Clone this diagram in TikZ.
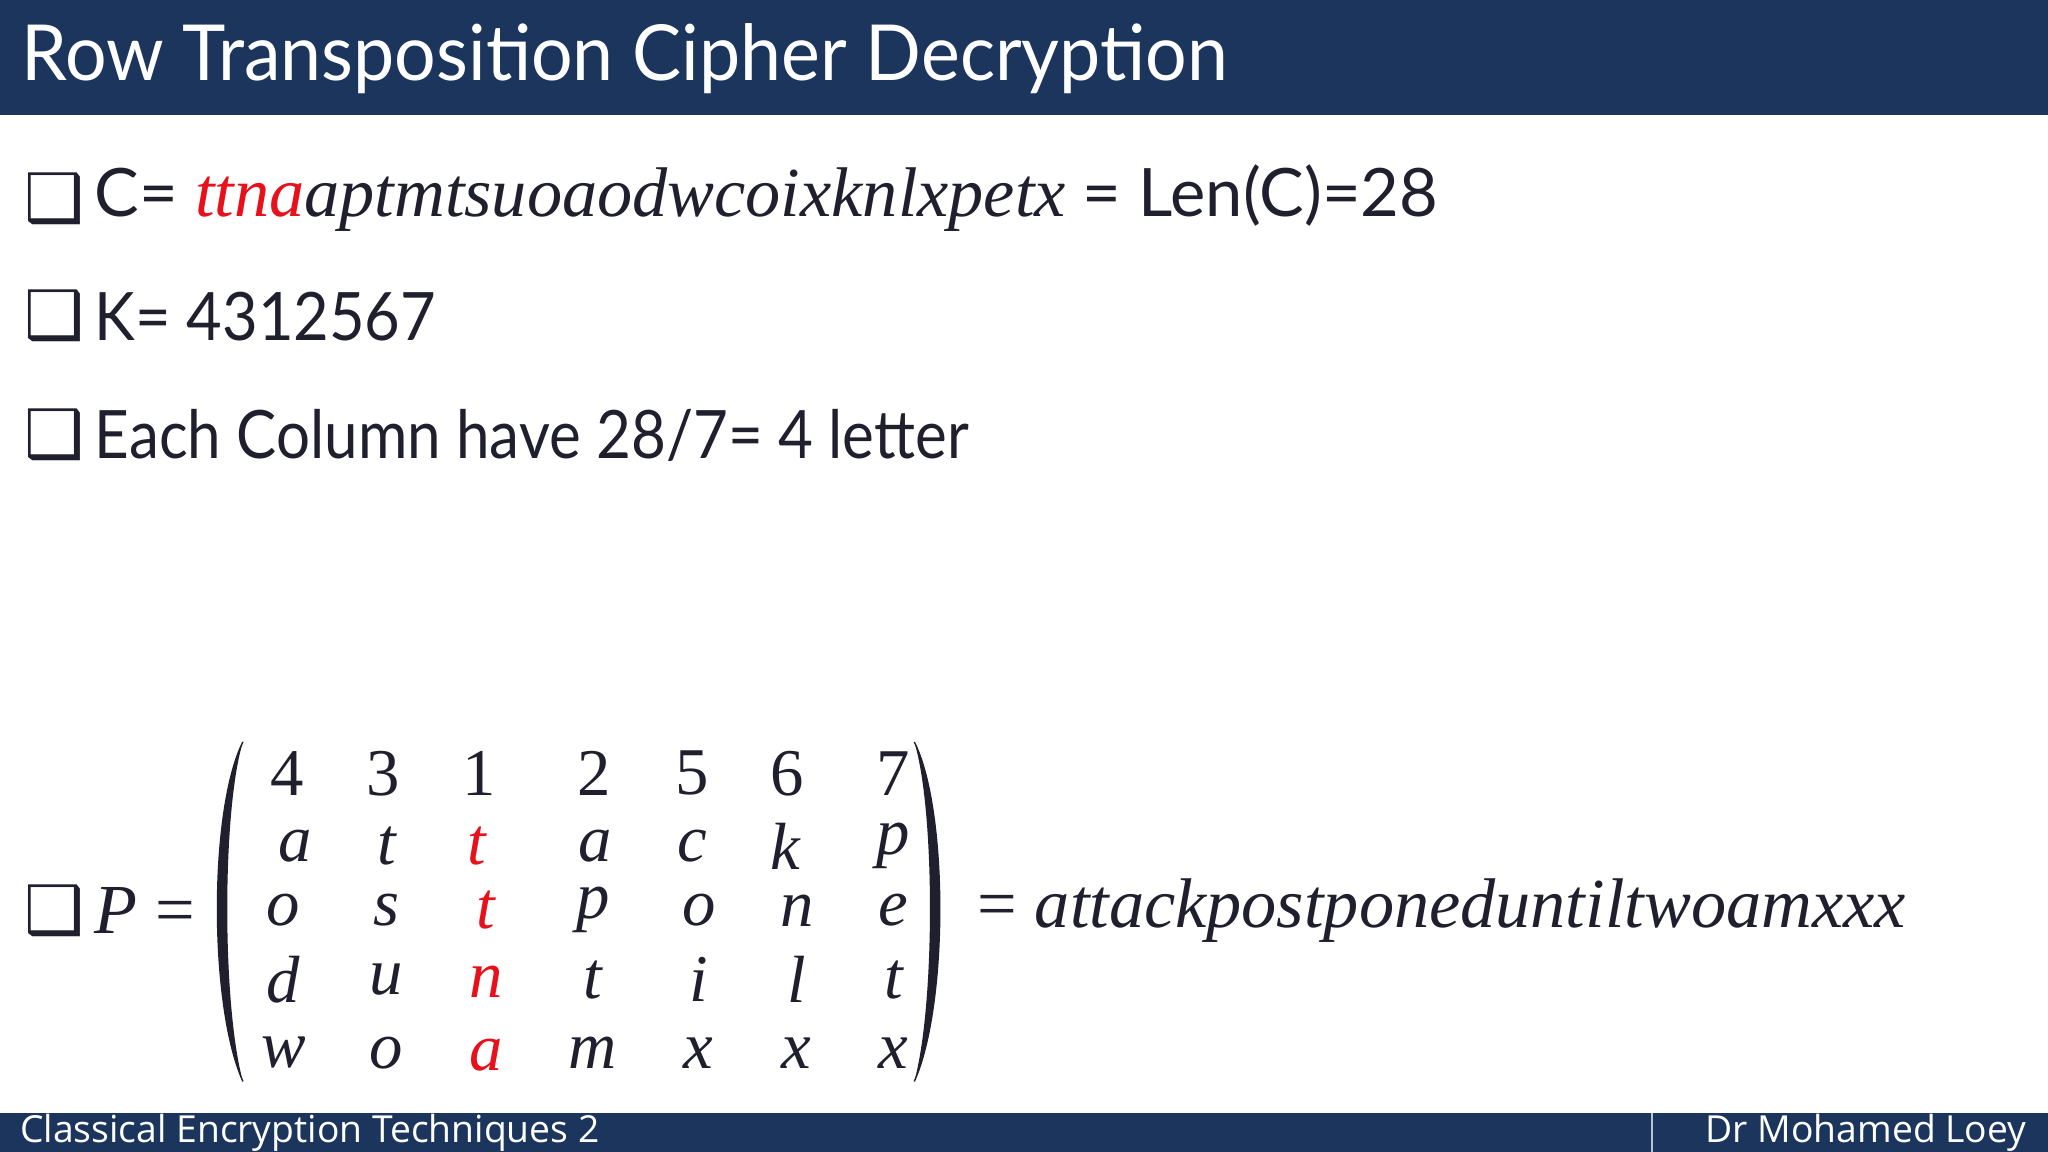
\documentclass[tikz,border=0pt]{standalone}
\usepackage{fontspec}
\setmainfont{Lato}
\newfontfamily\foot{Open Sans}
\newfontfamily\sym{DejaVu Sans}
\newfontfamily\mathserif{Liberation Serif}
\definecolor{navy}{HTML}{1B355C}
\definecolor{cred}{HTML}{E8101A}
\definecolor{ink}{HTML}{1F1F2E}
\tikzset{
  bul/.style={anchor=west,inner sep=0,font=\sym\fontsize{19}{19}\selectfont,text=ink},
  line/.style={anchor=west,inner sep=0,font=\fontsize{19}{19}\selectfont,text=ink},
  ent/.style={inner sep=0,font=\mathserif\itshape\fontsize{19}{19}\selectfont,text=ink},
  num/.style={inner sep=0,font=\mathserif\fontsize{19}{19}\selectfont,text=ink}
}
\begin{document}
\begin{tikzpicture}[x=0.01306cm,y=-0.01306cm]
\useasboundingbox (0,0) rectangle (1568,882);
\fill[white] (0,0) rectangle (1568,882);
\fill[navy] (0,0) rectangle (1568,88);
\fill[navy] (0,852) rectangle (1568,882);
\draw[white!70!navy,line width=0.6pt] (1265,852) -- (1265,882);
\node[anchor=west,inner sep=0,text=white,font=\fontsize{22}{22}\selectfont] (title) at (16,45) {\scalebox{0.95}[1]{Row Transposition Cipher Decryption}};
\node[anchor=west,inner sep=0,text=white,font=\foot\fontsize{10.6}{10.6}\selectfont] (fl) at (15,867) {Classical Encryption Techniques 2};
\node[anchor=east,inner sep=0,text=white,font=\foot\fontsize{10.6}{10.6}\selectfont] (fr) at (1552,867) {Dr Mohamed Loey};

\node[bul] (b1) at (18,152) {❑};
\node[line] (l1) at (72,152) {C= {\mathserif\itshape\fontsize{20}{20}\selectfont{\color{cred}ttna}aptmtsuoaodwcoixknlxpetx} = Len(C)=28};
\node[bul] (b2) at (18,242) {❑};
\node[line] (l2) at (72,242) {\scalebox{0.92}[1]{K= 4312567}};
\node[bul] (b3) at (18,333) {❑};
\node[line] (l3) at (72,333) {\scalebox{0.9}[1]{Each Column have 28/7= 4 letter}};
\node[bul] (b4) at (18,697) {❑};
\node[anchor=west,inner sep=0,font=\mathserif\fontsize{20}{20}\selectfont,text=ink] (p) at (72,697) {\textit{P} =};

\node[num] at (220,592) {4}; \node[num] at (293,592) {3}; \node[num] at (367,592) {1};
\node[num] at (455,592) {2}; \node[num] at (530,592) {5}; \node[num] at (603,592) {6}; \node[num] at (684,592) {7};
\node[ent] at (226,648) {a}; \node[ent] at (296,648) {t}; \node[ent,text=cred] at (365,648) {t};
\node[ent] at (456,648) {a}; \node[ent] at (530,648) {c}; \node[ent] at (601,648) {k}; \node[ent] at (684,648) {p};
\node[ent] at (217,697) {o}; \node[ent] at (296,697) {s}; \node[ent,text=cred] at (372,697) {t};
\node[ent] at (454,697) {p}; \node[ent] at (535,697) {o}; \node[ent] at (610,697) {n}; \node[ent] at (684,697) {e};
\node[ent] at (217,750) {d}; \node[ent] at (296,750) {u}; \node[ent,text=cred] at (372,752) {n};
\node[ent] at (454,750) {t}; \node[ent] at (535,750) {i}; \node[ent] at (610,750) {l}; \node[ent] at (684,750) {t};
\node[ent] at (217,806) {w}; \node[ent] at (296,806) {o}; \node[ent,text=cred] at (372,808) {a};
\node[ent] at (454,806) {m}; \node[ent] at (535,806) {x}; \node[ent] at (610,806) {x}; \node[ent] at (684,806) {x};

\fill[ink] (186,568) .. controls (160,620) and (160,770) .. (186,828) .. controls (170,770) and (170,620) .. (186,568) -- cycle;
\draw[ink,line width=0.4pt] (186,568) .. controls (160,620) and (160,770) .. (186,828);
\fill[ink] (700,568) .. controls (726,620) and (726,770) .. (700,828) .. controls (716,770) and (716,620) .. (700,568) -- cycle;
\draw[ink,line width=0.4pt] (700,568) .. controls (726,620) and (726,770) .. (700,828);

\node[anchor=west,inner sep=0,font=\mathserif\fontsize{20}{20}\selectfont,text=ink] (res) at (748,697) {= \textit{attackpostponeduntiltwoamxxx}};
\end{tikzpicture}
\end{document}
